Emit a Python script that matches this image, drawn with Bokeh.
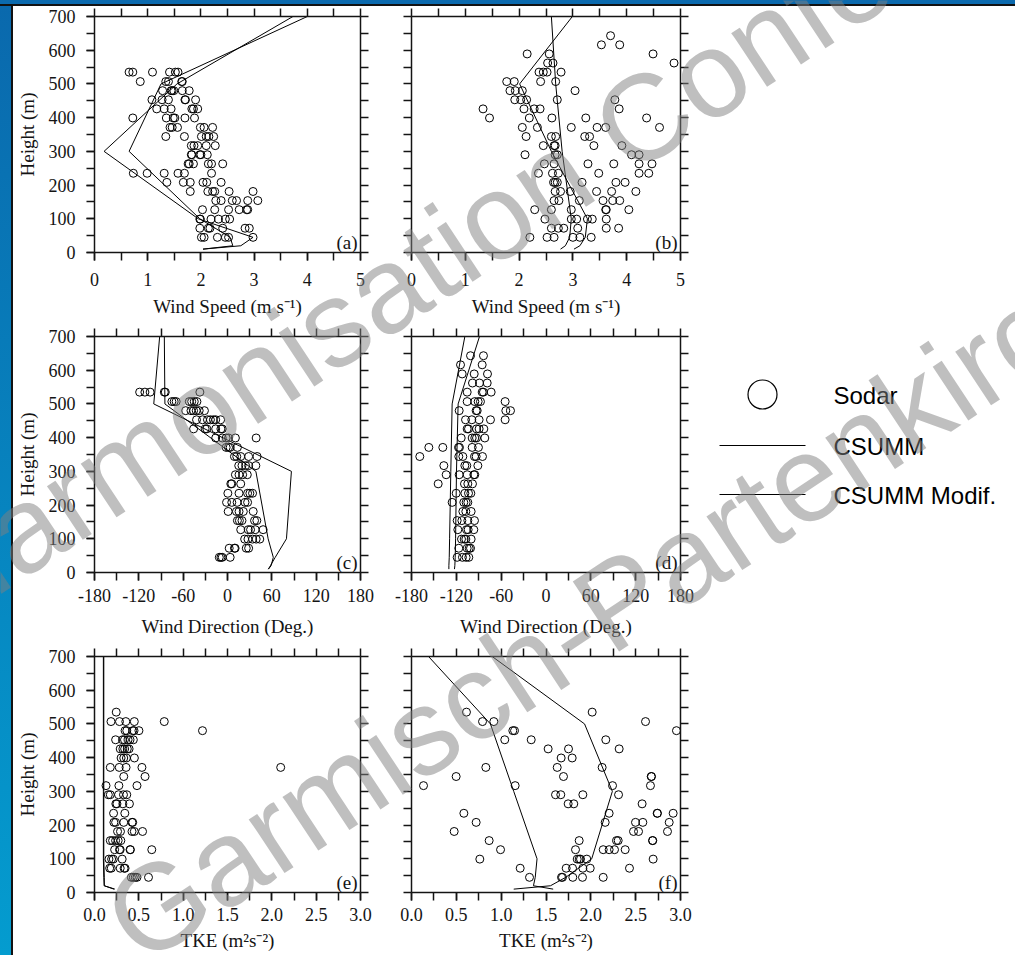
import math
from bokeh.plotting import figure
from bokeh.models import Range1d, LinearAxis, FixedTicker, PrintfTickFormatter, Label
from bokeh.layouts import row, column
from bokeh.embed import file_html
from bokeh.resources import INLINE

# ---------------------------------------------------------------- data
# sodar range gates (m)
GATES = [45, 72, 99, 127, 154, 181, 208, 235, 263, 290, 317, 344, 371,
         399, 426, 453, 480, 507, 535, 562, 589, 616, 643]
# model output levels (m)
LEVELS = [10, 20, 45, 100, 300, 500, 700]

# (a) wind speed, sodar values per gate (m/s)
A_SPEED = [
    [2.01, 2.06, 2.31, 2.46, 2.52, 2.98],
    [1.98, 2.14, 2.17, 2.41, 2.83, 2.91],
    [1.98, 1.99, 2.19, 2.33, 2.46, 2.54],
    [2.03, 2.26, 2.52, 2.72, 2.86, 2.88],
    [2.28, 2.38, 2.59, 2.67, 2.88, 3.07],
    [1.80, 2.13, 2.22, 2.26, 2.53, 2.98],
    [1.36, 1.67, 1.80, 2.04, 2.11, 2.38],
    [0.73, 0.99, 1.31, 1.57, 1.69, 2.20],
    [1.76, 1.78, 1.86, 2.14, 2.20, 2.41],
    [1.82, 1.83, 1.98, 2.00, 2.12],
    [1.82, 1.87, 1.94, 2.10, 2.27],
    [1.34, 1.69, 2.01, 2.10, 2.15, 2.24],
    [1.42, 1.46, 1.56, 1.99, 2.06, 2.22],
    [0.72, 1.35, 1.48, 1.51, 1.70, 1.88],
    [1.17, 1.31, 1.44, 1.83, 1.86, 1.94],
    [1.08, 1.27, 1.39, 1.70, 1.71, 1.90],
    [1.28, 1.44, 1.46, 1.49, 1.65, 1.78],
    [0.86, 1.34, 1.39, 1.64, 1.65],
    [0.65, 0.72, 1.09, 1.41, 1.52, 1.57],
]
A_CSUMM = [2.04, 2.75, 2.98, 1.95, 0.18, 1.55, 3.73]
A_MODIF = [2.04, 2.60, 2.55, 1.98, 0.65, 1.25, 4.00]

# (b) wind speed
B_SPEED = [
    [2.20, 2.52, 2.65, 3.00, 3.13, 3.34],
    [2.60, 2.73, 2.83, 3.09, 3.62, 3.85],
    [2.48, 2.97, 3.07, 3.27, 3.36, 3.62],
    [2.29, 2.60, 2.97, 3.61, 3.62, 4.04],
    [2.65, 2.74, 3.12, 3.56, 3.74, 3.87],
    [2.67, 2.77, 2.95, 3.44, 3.72, 4.17],
    [2.64, 2.67, 2.71, 3.17, 3.80, 3.97],
    [2.36, 2.62, 2.73, 3.48, 4.23, 4.41],
    [2.47, 2.65, 3.28, 3.76, 4.23, 4.47],
    [2.11, 2.67, 2.71, 4.09, 4.23],
    [2.45, 2.65, 2.67, 3.39, 3.91],
    [2.13, 2.60, 2.68, 3.22, 3.31],
    [2.06, 2.34, 2.97, 3.45, 3.61, 4.61],
    [1.45, 2.19, 2.61, 3.24, 4.37],
    [1.33, 2.09, 2.28, 2.39, 3.86],
    [1.92, 2.03, 2.14, 2.71, 3.78],
    [1.83, 1.93, 2.06, 3.04],
    [1.77, 1.91, 2.40, 2.68],
    [2.37, 2.45, 2.52, 2.78],
    [2.53, 2.63, 4.88],
    [2.15, 2.56, 4.49],
    [3.53, 3.87],
    [3.70],
]
B_CSUMM = [2.77, 2.86, 2.94, 2.97, 2.80, 2.68, 2.60]
B_MODIF = [3.02, 3.13, 3.23, 3.27, 2.60, 2.01, 2.99]

# (c) wind direction (deg)
C_DIR = [
    [-11.1, -8.9, -7.1, 3.6],
    [2.3, 9.4, 10.3, 25.4, 28.6],
    [23.2, 27.7, 33.9, 38.8, 43.7],
    [17.9, 28.1, 31.2, 37.5, 48.2],
    [13.4, 16.1, 19.6, 36.6, 39.7],
    [0.9, 12.1, 15.6, 21.4, 34.8],
    [-1.3, 5.8, 13.0, 23.7, 27.2],
    [0.5, 15.6, 27.2, 30.3, 33.9],
    [4.5, 5.8, 17.9],
    [10.7, 15.6, 20.5, 26.8],
    [15.2, 19.6, 24.5, 28.6, 38.4],
    [9.4, 12.5, 17.9, 28.6, 40.1],
    [-1.8, 1.4, 3.6, 13.4],
    [-16.0, -7.1, -1.8, 1.4, 10.7, 38.8],
    [-45.9, -30.3, -28.0, -16.0, -8.9, -7.1],
    [-41.9, -33.8, -27.1, -23.1, -19.1, -16.0, -9.3],
    [-56.6, -49.4, -45.9, -42.3, -38.3, -31.2],
    [-75.3, -72.2, -69.5, -51.7, -48.5, -45.0, -41.4],
    [-118.9, -111.8, -104.7, -85.5, -84.2, -37.4],
]
C_CSUMM = [55.3, 58.0, 64.6, 79.8, 86.5, -99.8, -91.8]
C_MODIF = [55.3, 59.0, 62.0, 55.0, 38.4, -84.7, -85.5]

# (d) wind direction (deg)
D_DIR = [
    [-118.9, -111.8, -106.9, -103.3],
    [-116.7, -105.5, -102.8, -101.0],
    [-113.1, -109.5, -107.3, -100.2],
    [-118.0, -106.4, -104.2, -96.6],
    [-118.9, -112.6, -104.6, -95.7],
    [-111.3, -107.3, -100.2],
    [-125.6, -110.0, -106.9, -104.6],
    [-120.2, -108.6, -103.7, -100.6],
    [-144.3, -109.1, -104.6, -98.4],
    [-133.6, -116.2, -105.5, -96.6, -95.3],
    [-136.7, -108.6, -106.0, -91.2],
    [-168.9, -116.7, -111.3, -95.7, -93.5, -85.0],
    [-156.8, -138.1, -117.1, -115.8, -98.8, -90.4],
    [-113.5, -98.8, -95.3, -93.0, -81.9],
    [-105.5, -103.7, -93.0, -89.5, -83.2],
    [-107.7, -99.3, -89.5, -74.3, -54.7],
    [-116.2, -93.5, -92.1, -53.8, -47.5],
    [-105.5, -95.3, -90.8, -87.7, -54.7],
    [-105.5, -85.4, -83.7, -73.4],
    [-98.4, -89.0, -78.7],
    [-112.2, -96.1, -78.3],
    [-114.4, -85.4],
    [-101.0, -83.7],
]
D_CSUMM = [-130.0, -130.0, -129.5, -129.0, -127.4, -125.6, -108.6]
D_MODIF = [-122.5, -122.0, -121.5, -121.0, -119.8, -117.6, -89.0]

# (e) turbulent kinetic energy (m2/s2)
E_TKE = [
    [0.416, 0.438, 0.46, 0.479, 0.609],
    [0.171, 0.189, 0.29, 0.334, 0.345],
    [0.163, 0.193, 0.212, 0.312],
    [0.227, 0.282, 0.29, 0.401, 0.405, 0.646],
    [0.178, 0.204, 0.238, 0.267, 0.297],
    [0.26, 0.293, 0.423, 0.449, 0.542],
    [0.219, 0.238, 0.33, 0.423, 0.431],
    [0.215, 0.342],
    [0.241, 0.253, 0.32, 0.394],
    [0.156, 0.178, 0.271, 0.327, 0.364],
    [0.13, 0.275, 0.479],
    [0.33, 0.57],
    [0.178, 0.279, 0.356, 0.535, 2.10],
    [0.30, 0.33, 0.36, 0.45],
    [0.29, 0.32, 0.34, 0.37, 0.39],
    [0.238, 0.316, 0.338, 0.379, 0.401, 0.438],
    [0.345, 0.364, 0.431, 0.446, 0.501, 1.218],
    [0.186, 0.282, 0.353, 0.449, 0.787],
    [0.245],
]
E_CSUMM = [0.23, 0.11, 0.105, 0.10, 0.10, 0.10, 0.10]
E_MODIF = [0.22, 0.11, 0.11, 0.105, 0.105, 0.105, 0.105]

# (f) turbulent kinetic energy (m2/s2)
F_TKE = [
    [1.316, 1.673, 1.684, 1.799, 1.907, 2.138],
    [1.212, 1.725, 1.796, 1.911, 1.993, 2.431],
    [0.762, 1.848, 1.87, 1.885, 1.955, 2.695],
    [0.993, 1.829, 2.138, 2.204, 2.264, 2.383],
    [0.866, 1.87, 2.286, 2.305, 2.688, 2.691],
    [0.476, 2.476, 2.532, 2.855],
    [0.721, 2.16, 2.498, 2.58, 2.874],
    [0.584, 2.204, 2.74, 2.743, 2.918],
    [1.747, 1.81, 2.572],
    [1.606, 1.665, 1.911, 2.309],
    [0.134, 1.156, 2.242, 2.665],
    [0.498, 1.695, 2.673, 2.677],
    [0.829, 1.625, 2.126],
    [1.669, 1.792],
    [1.524, 1.751, 2.316],
    [1.04, 1.335, 2.167],
    [1.13, 1.149, 2.955],
    [0.792, 0.918, 2.61],
    [0.613, 2.015],
]
F_CSUMM = [1.58, 1.36, 1.38, 1.40, 1.14, 0.88, 0.19]
F_MODIF = [1.14, 1.55, 1.72, 2.01, 2.24, 1.93, 0.90]

# axis ticks and labels
HEIGHT_MAJOR = [0, 100, 200, 300, 400, 500, 600, 700]
HEIGHT_MINOR = [0, 50, 100, 150, 200, 250, 300, 350, 400, 450, 500, 550, 600, 650, 700]
SPEED_MAJOR = [0, 1, 2, 3, 4, 5]
SPEED_MINOR = [0, 0.5, 1, 1.5, 2, 2.5, 3, 3.5, 4, 4.5, 5]
DIR_MAJOR = [-180, -120, -60, 0, 60, 120, 180]
DIR_MINOR = [-180, -150, -120, -90, -60, -30, 0, 30, 60, 90, 120, 150, 180]
TKE_MAJOR = [0, 0.5, 1.0, 1.5, 2.0, 2.5, 3.0]
TKE_MINOR = [0, 0.25, 0.5, 0.75, 1.0, 1.25, 1.5, 1.75, 2.0, 2.25, 2.5, 2.75, 3.0]

SERIES_NAMES = ["Sodar", "CSUMM", "CSUMM Modif."]
WATERMARK = ["Harmonisation Conference", "Garmisch-Partenkirchen"]

# ---------------------------------------------------------------- layout
PAGE_W, PAGE_H = 1015, 955
STRIP_TOP, STRIP_LEFT = 6, 13
ROW_H = [320, 320, 309]
COL_W = [372, 320]
PAD_L = [77, 26]
PAD_R, PAD_T, FRAME_H = 25, 10, 236
TICK_STANDOFF = [12, 8, 7]
TITLE_STANDOFF = [7, 11, 6]
LEGEND_W = 310

SERIF = "Liberation Serif"
SANS = "Liberation Sans"
INK = "#141414"
TICK_FONT = "18px"
TITLE_FONT = "19px"

# watermark baselines (page pixels), size and angle
WM_X = [-78, 118]
WM_Y = [595, 932]
WM_SIZE = "122px"
WM_ANGLE = math.radians(33.5)


def style_axis(ax, major, minor, standoff=0, fmt="%d"):
    ax.ticker = FixedTicker(ticks=major, minor_ticks=minor)
    ax.formatter = PrintfTickFormatter(format=fmt)
    ax.axis_line_color = INK
    ax.axis_line_width = 1.5
    ax.major_tick_line_color = INK
    ax.major_tick_line_width = 1.5
    ax.minor_tick_line_color = INK
    ax.minor_tick_line_width = 1.5
    ax.major_tick_in = 0
    ax.major_tick_out = 8
    ax.minor_tick_in = 0
    ax.minor_tick_out = 8
    ax.major_label_text_font = SERIF
    ax.major_label_text_font_size = TICK_FONT
    ax.major_label_text_color = INK
    ax.major_label_standoff = standoff
    ax.axis_label_text_font = SERIF
    ax.axis_label_text_font_size = TITLE_FONT
    ax.axis_label_text_font_style = "normal"
    ax.axis_label_text_color = INK


def expand(rows):
    xs, ys = [], []
    for h, vals in zip(GATES, rows):
        xs.extend(vals)
        ys.extend([h] * len(vals))
    return xs, ys


def make_panel(tag, r, c, xr, major, minor, fmt, title, obs, csumm, modif):
    w, h = COL_W[c], ROW_H[r]
    pl = PAD_L[c]
    pb = h - PAD_T - FRAME_H
    p = figure(width=w, height=h, x_range=Range1d(*xr), y_range=Range1d(0, 700),
               x_axis_type=None, y_axis_type=None, toolbar_location=None,
               output_backend="svg", min_border_left=pl, min_border_right=PAD_R,
               min_border_top=PAD_T, min_border_bottom=pb,
               outline_line_color=None, background_fill_color="white",
               border_fill_color="white")

    below = LinearAxis(axis_label=title)
    style_axis(below, major, minor, TICK_STANDOFF[r], fmt)
    below.axis_label_standoff = TITLE_STANDOFF[r]
    p.add_layout(below, "below")

    above = LinearAxis()
    style_axis(above, [], minor)
    p.add_layout(above, "above")

    if c == 0:
        left = LinearAxis(axis_label="Height (m)")
        style_axis(left, HEIGHT_MAJOR, HEIGHT_MINOR, 11)
        left.axis_label_standoff = 8
    else:
        left = LinearAxis()
        style_axis(left, [], HEIGHT_MINOR)
    p.add_layout(left, "left")

    right = LinearAxis()
    style_axis(right, [], HEIGHT_MINOR)
    p.add_layout(right, "right")

    xs, ys = expand(obs)
    p.scatter(xs, ys, marker="circle", size=8, fill_color=None,
              line_color="black", line_width=1)
    p.line(csumm, LEVELS, line_color="black", line_width=1)
    p.line(modif, LEVELS, line_color="black", line_width=1)

    p.add_layout(Label(x=xr[1], y=0, x_offset=-3, y_offset=10, text=tag,
                       text_font=SERIF, text_font_size=TITLE_FONT, text_color=INK,
                       text_align="right", text_baseline="alphabetic"))
    return p


SPEED_TITLE = "Wind Speed (m s\u207b\u00b9)"
DIR_TITLE = "Wind Direction (Deg.)"
TKE_TITLE = "TKE (m\u00b2s\u207b\u00b2)"

pa = make_panel("(a)", 0, 0, (0, 5), SPEED_MAJOR, SPEED_MINOR, "%d", SPEED_TITLE,
                A_SPEED, A_CSUMM, A_MODIF)
pb = make_panel("(b)", 0, 1, (0, 5), SPEED_MAJOR, SPEED_MINOR, "%d", SPEED_TITLE,
                B_SPEED, B_CSUMM, B_MODIF)
pc = make_panel("(c)", 1, 0, (-180, 180), DIR_MAJOR, DIR_MINOR, "%d", DIR_TITLE,
                C_DIR, C_CSUMM, C_MODIF)
pd = make_panel("(d)", 1, 1, (-180, 180), DIR_MAJOR, DIR_MINOR, "%d", DIR_TITLE,
                D_DIR, D_CSUMM, D_MODIF)
pe = make_panel("(e)", 2, 0, (0, 3), TKE_MAJOR, TKE_MINOR, "%.1f", TKE_TITLE,
                E_TKE, E_CSUMM, E_MODIF)
pf = make_panel("(f)", 2, 1, (0, 3), TKE_MAJOR, TKE_MINOR, "%.1f", TKE_TITLE,
                F_TKE, F_CSUMM, F_MODIF)


def blank(w, h):
    return figure(width=w, height=h, x_range=Range1d(0, w), y_range=Range1d(h, 0),
                  x_axis_type=None, y_axis_type=None, toolbar_location=None,
                  output_backend="svg", min_border=0, outline_line_color=None,
                  background_fill_color=None, border_fill_color=None)


# blue page edges
top_strip = blank(PAGE_W, STRIP_TOP)
top_strip.styles = {"background": "linear-gradient(to bottom, #0b6aae 0px, #0b6aae 4px, #121212 4px)"}

body_h = PAGE_H - STRIP_TOP
left_strip = blank(STRIP_LEFT, body_h)
left_strip.styles = {"background": "linear-gradient(to right, rgba(0,0,0,0) 0px, rgba(0,0,0,0) 11px, #121212 11px), "
                                   "linear-gradient(to bottom, #0a69ad, #049ccf)"}

# legend column, laid out in its own pixel space
legend = blank(LEGEND_W, body_h)
legend.background_fill_color = "white"
legend.border_fill_color = "white"
KEY_X0, KEY_X1, KEY_XC, TEXT_X = 14, 100, 57, 128
ROW_Y_LEG = [388, 439, 488]
legend.scatter([KEY_XC], [ROW_Y_LEG[0]], marker="circle", size=29, fill_color=None,
               line_color="black", line_width=1.2)
legend.line([KEY_X0, KEY_X1], [ROW_Y_LEG[1]] * 2, line_color="black", line_width=1)
legend.line([KEY_X0, KEY_X1], [ROW_Y_LEG[2]] * 2, line_color="black", line_width=1)
for name, yy in zip(SERIES_NAMES, ROW_Y_LEG):
    legend.add_layout(Label(x=TEXT_X, y=yy + 1, text=name, text_font=SANS,
                            text_font_size="24px", text_color="black",
                            text_align="left", text_baseline="middle"))

# transparent sheet over the whole page carrying the diagonal watermark
sheet = blank(PAGE_W, PAGE_H)
sheet.styles = {"position": "absolute", "left": "0px", "top": "0px",
                "z-index": "10", "pointer-events": "none"}
for txt, gx, gy in zip(WATERMARK, WM_X, WM_Y):
    sheet.add_layout(Label(x=gx, y=gy, text=txt, angle=WM_ANGLE,
                           text_font=SANS, text_font_size=WM_SIZE,
                           text_color="#7f7f7f", text_alpha=0.5,
                           text_align="left", text_baseline="alphabetic"))

panels = column(row(pa, pb), row(pc, pd), row(pe, pf))
page = column(top_strip, row(left_strip, panels, legend), sheet)

open("out.html", "w").write(file_html(page, INLINE))
